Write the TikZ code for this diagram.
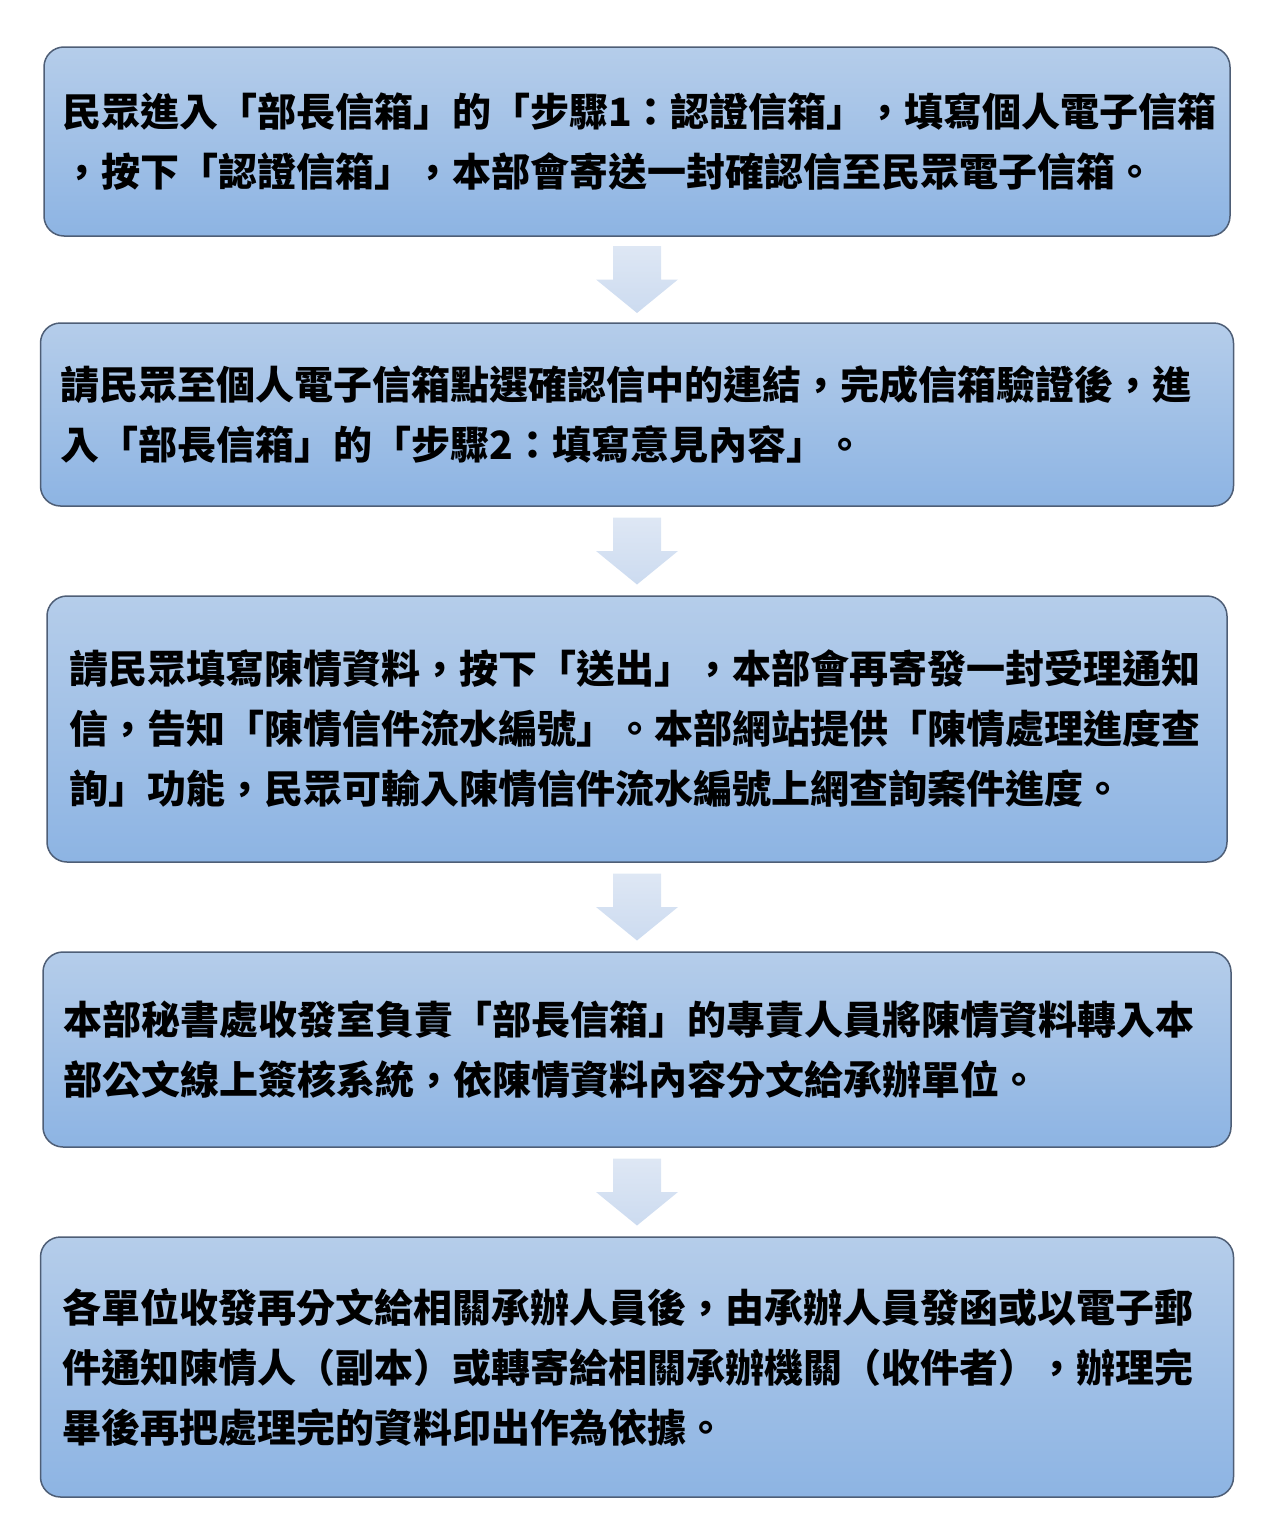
\documentclass[tikz,border=0pt]{standalone}
\usepackage{fontspec}
\setmainfont{Noto Sans CJK TC}
\usepackage{tikz}
\usetikzlibrary{positioning}
\usetikzlibrary{calc}

\definecolor{boxtop}{RGB}{181,205,234}
\definecolor{boxbottom}{RGB}{141,180,227}
\definecolor{boxline}{RGB}{78,94,118}
\definecolor{arrtop}{RGB}{222,231,244}
\definecolor{arrbottom}{RGB}{204,219,240}

\begin{document}
\begin{tikzpicture}[x=1pt,y=1pt,node distance=88.5pt,
  stepbox/.style={draw=boxline,line width=1.5pt,rounded corners=20pt,top color=boxtop,bottom color=boxbottom,
    align=left,font=\bfseries\fontsize{39}{60}\selectfont},
  flowarrow/.style={top color=arrtop,bottom color=arrbottom,draw=none}]
\useasboundingbox (0,0) rectangle (1279,-1539);
\node [stepbox,minimum height=189pt,inner xsep=18pt,text width=1150pt] (B1) at (637,-141.5)
  {民眾進入「部長信箱」的「步驟1：認證信箱」，填寫個人電子信箱\\，按下「認證信箱」，本部會寄送一封確認信至民眾電子信箱。};
\node [stepbox,minimum height=183pt,inner xsep=20pt,text width=1153pt,below=85.5pt of B1] (B2)
  {請民眾至個人電子信箱點選確認信中的連結，完成信箱驗證後，進\\入「部長信箱」的「步驟2：填寫意見內容」。};
\node [stepbox,minimum height=266pt,inner xsep=22pt,text width=1136pt,below=of B2] (B3)
  {請民眾填寫陳情資料，按下「送出」，本部會再寄發一封受理通知\\信，告知「陳情信件流水編號」。本部網站提供「陳情處理進度查\\詢」功能，民眾可輸入陳情信件流水編號上網查詢案件進度。};
\node [stepbox,minimum height=195pt,inner xsep=20pt,text width=1148pt,below=of B3] (B4)
  {本部秘書處收發室負責「部長信箱」的專責人員將陳情資料轉入本\\部公文線上簽核系統，依陳情資料內容分文給承辦單位。};
\node [stepbox,minimum height=260pt,inner xsep=22pt,text width=1149pt,below=of B4] (B5)
  {各單位收發再分文給相關承辦人員後，由承辦人員發函或以電子郵\\件通知陳情人（副本）或轉寄給相關承辦機關（收件者），辦理完\\畢後再把處理完的資料印出作為依據。};
% block arrows between the steps
\foreach \a/\b in {B1/B2,B2/B3,B3/B4,B4/B5}
  \shade [flowarrow] ($(\a.south)!.5!(\b.north)$) ++(-24,33.5) -- ++(48,0) -- ++(0,-33.5) -- ++(17,0)
    -- ++(-41,-33.5) -- ++(-41,33.5) -- ++(17,0) -- cycle;
\end{tikzpicture}
\end{document}
